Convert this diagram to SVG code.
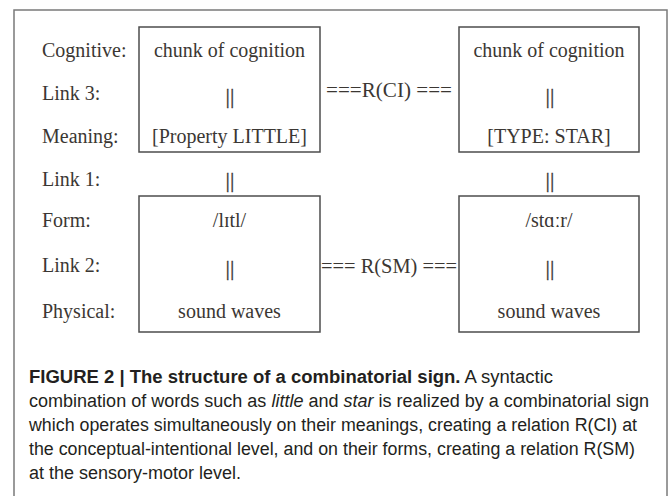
<svg xmlns="http://www.w3.org/2000/svg" width="669" height="496" viewBox="0 0 669 496">
<style>
.frame{fill:none;stroke:#7a7a7a;stroke-width:1.5}
.box{fill:#fff;stroke:#4d4d4d;stroke-width:1.5}
.lbl{font-family:"Liberation Serif",serif;font-size:20px;fill:#3b3733}
.ctr{font-family:"Liberation Serif",serif;font-size:20px;fill:#3b3733;text-anchor:middle}
.bar{font-family:"Liberation Serif",serif;font-size:22px;fill:#3b3733;stroke:#3b3733;stroke-width:0.3;text-anchor:middle}
.cap{font-family:"Liberation Sans",Arial,sans-serif;font-size:18px;fill:#231f20}
.b{font-weight:bold}
.i{font-style:italic}
</style>
<rect width="669" height="496" fill="#fff"/>
<rect class="frame" x="14" y="10" width="653" height="500"/>
<g id="labels">
<text class="lbl" x="42" y="57">Cognitive:</text>
<text class="lbl" x="42" y="100">Link 3:</text>
<text class="lbl" x="42" y="143">Meaning:</text>
<text class="lbl" x="42" y="186">Link 1:</text>
<text class="lbl" x="42" y="227">Form:</text>
<text class="lbl" x="42" y="272">Link 2:</text>
<text class="lbl" x="42" y="318">Physical:</text>
</g>
<g id="little-meaning">
<rect class="box" x="139" y="27" width="181" height="125"/>
<text class="ctr" x="229.5" y="57">chunk of cognition</text>
<text class="bar" x="230" y="103">||</text>
<text class="ctr" x="229.5" y="143">[Property LITTLE]</text>
</g>
<g id="star-meaning">
<rect class="box" x="459" y="27" width="180" height="125"/>
<text class="ctr" x="549" y="57">chunk of cognition</text>
<text class="bar" x="550" y="103">||</text>
<text class="ctr" x="549" y="143">[TYPE: STAR]</text>
</g>
<g id="little-form">
<rect class="box" x="139" y="196" width="181" height="136"/>
<text class="ctr" x="229.5" y="227">/lɪtl/</text>
<text class="bar" x="230" y="275">||</text>
<text class="ctr" x="229.5" y="318">sound waves</text>
</g>
<g id="star-form">
<rect class="box" x="459" y="196" width="180" height="136"/>
<text class="ctr" x="549" y="227">/stɑːr/</text>
<text class="bar" x="550" y="275">||</text>
<text class="ctr" x="549" y="318">sound waves</text>
</g>
<g id="connectors">
<text class="bar" x="230" y="187">||</text>
<text class="bar" x="550" y="187">||</text>
<text class="ctr" x="389" y="97" textLength="126" lengthAdjust="spacingAndGlyphs">===R(CI) ===</text>
<text class="ctr" x="389" y="273" textLength="136" lengthAdjust="spacingAndGlyphs">=== R(SM) ===</text>
</g>
<g id="caption">
<text class="cap" x="29" y="383" textLength="524" lengthAdjust="spacingAndGlyphs"><tspan class="b">FIGURE 2 | The structure of a combinatorial sign.</tspan> A syntactic</text>
<text class="cap" x="29" y="407" textLength="620" lengthAdjust="spacingAndGlyphs">combination of words such as <tspan class="i">little</tspan> and <tspan class="i">star</tspan> is realized by a combinatorial sign</text>
<text class="cap" x="29" y="431" textLength="608" lengthAdjust="spacingAndGlyphs">which operates simultaneously on their meanings, creating a relation R(CI) at</text>
<text class="cap" x="29" y="455" textLength="606" lengthAdjust="spacingAndGlyphs">the conceptual-intentional level, and on their forms, creating a relation R(SM)</text>
<text class="cap" x="29" y="479">at the sensory-motor level.</text>
</g>
</svg>
